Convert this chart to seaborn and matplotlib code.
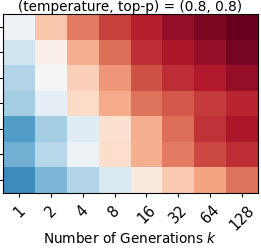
import numpy as np
import pandas as pd
import matplotlib
matplotlib.use('Agg')
import matplotlib.pyplot as plt
import seaborn as sns

# Количество генераций (столбцы)
gens = ['1', '2', '4', '8', '16', '32', '64', '128']
# значения ячеек по строкам (оценка по картинке)
row0 = [0.47, 0.64, 0.76, 0.84, 0.89, 0.94, 0.97, 1.00]
row1 = [0.40, 0.53, 0.68, 0.78, 0.87, 0.91, 0.94, 0.98]
row2 = [0.35, 0.49, 0.62, 0.72, 0.82, 0.87, 0.90, 0.94]
row3 = [0.33, 0.45, 0.60, 0.69, 0.77, 0.81, 0.85, 0.88]
row4 = [0.22, 0.33, 0.44, 0.58, 0.68, 0.78, 0.86, 0.91]
row5 = [0.26, 0.36, 0.47, 0.59, 0.68, 0.76, 0.83, 0.87]
row6 = [0.18, 0.27, 0.35, 0.42, 0.55, 0.63, 0.70, 0.77]

data = pd.DataFrame([row0, row1, row2, row3, row4, row5, row6], columns=gens)

fig = plt.figure(figsize=(2.61, 2.51), dpi=100)
ax = fig.add_axes([0.012, 0.229, 0.976, 0.711])
sns.heatmap(data, cmap='RdBu_r', vmin=0, vmax=1, cbar=False, ax=ax,
            yticklabels=False)
ax.set_yticks(np.arange(len(data)) + 0.5)
ax.set_yticklabels([])
ax.set_title('(temperature, top-p) = (0.8, 0.8)', fontsize=9.8, pad=3)
ax.set_xticklabels(gens, rotation=45, fontsize=10.5)
ax.set_xlabel('Number of Generations $k$', fontsize=9.8, labelpad=-1)
ax.tick_params(length=3, width=0.8)
for s in ax.spines.values():
    s.set_visible(True)
    s.set_linewidth(0.8)
plt.savefig('out.png', dpi=100)
plt.close()
